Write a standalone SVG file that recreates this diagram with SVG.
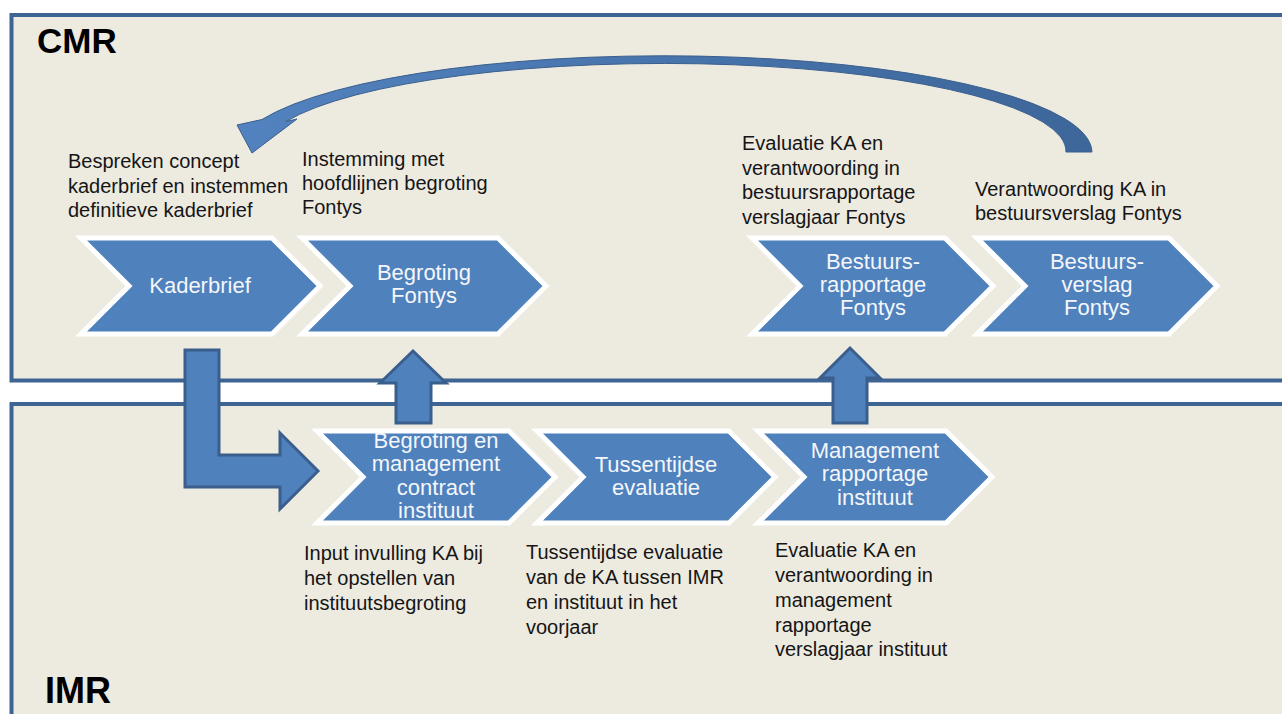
<svg xmlns="http://www.w3.org/2000/svg" width="1282" height="714" viewBox="0 0 1282 714">
<defs>
<linearGradient id="arcGrad" x1="240" y1="0" x2="1100" y2="0" gradientUnits="userSpaceOnUse">
<stop offset="0" stop-color="#5282BF"/>
<stop offset="1" stop-color="#3D6699"/>
</linearGradient>
</defs>
<style>
.frame{fill:#EDEAE0;stroke:#3E6494;stroke-width:4}
.chev{fill:#4F81BD;stroke:#FFFFFF;stroke-width:5;stroke-linejoin:miter}
.ctext{font-family:"Liberation Sans",Arial,sans-serif;font-size:22px;fill:#F4F6FA;text-anchor:middle}
.label{font-family:"Liberation Sans",Arial,sans-serif;font-size:20px;fill:#151515}
.title{font-family:"Liberation Sans",Arial,sans-serif;font-size:35px;font-weight:bold;fill:#000}
.arrow{fill:#4F81BD;stroke:#3A5F8D;stroke-width:3;stroke-linejoin:miter}
</style>
<rect width="1282" height="714" fill="#FFFFFF"/>
<g id="frames">
<rect class="frame" x="11.5" y="15" width="1290" height="365.5"/>
<rect class="frame" x="11.5" y="404" width="1290" height="330"/>
<text class="title" x="37" y="53">CMR</text>
<text class="title" x="45" y="703" style="font-size:36px">IMR</text>
</g>
<g id="kaderbrief">
<polygon class="chev" points="81,238 272,238 320,286 272,334 81,334 129,286"/>
<text class="ctext" x="200" y="293">Kaderbrief</text>
</g>
<g id="begroting-fontys">
<polygon class="chev" points="302,238 498,238 546,286 498,334 302,334 350,286"/>
<text class="ctext" x="424" y="280">Begroting</text>
<text class="ctext" x="424" y="303">Fontys</text>
</g>
<g id="bestuursrapportage">
<polygon class="chev" points="752,238 945,238 993,286 945,334 752,334 800,286"/>
<text class="ctext" x="873" y="269">Bestuurs-</text>
<text class="ctext" x="873" y="292">rapportage</text>
<text class="ctext" x="873" y="315">Fontys</text>
</g>
<g id="bestuursverslag">
<polygon class="chev" points="977,238 1169,238 1217,286 1169,334 977,334 1025,286"/>
<text class="ctext" x="1097" y="269">Bestuurs-</text>
<text class="ctext" x="1097" y="292">verslag</text>
<text class="ctext" x="1097" y="315">Fontys</text>
</g>
<g id="begroting-management">
<polygon class="chev" points="317,431 509,431 555,477 509,523 317,523 363,477"/>
<text class="ctext" x="436" y="448">Begroting en</text>
<text class="ctext" x="436" y="471">management</text>
<text class="ctext" x="436" y="495">contract</text>
<text class="ctext" x="436" y="518">instituut</text>
</g>
<g id="tussentijdse">
<polygon class="chev" points="537,431 729,431 775,477 729,523 537,523 583,477"/>
<text class="ctext" x="656" y="472">Tussentijdse</text>
<text class="ctext" x="656" y="495">evaluatie</text>
</g>
<g id="management-rapportage">
<polygon class="chev" points="758,431 946,431 992,477 946,523 758,523 804,477"/>
<text class="ctext" x="875" y="458">Management</text>
<text class="ctext" x="875" y="481">rapportage</text>
<text class="ctext" x="875" y="505">instituut</text>
</g>
<g id="labels">
<text class="label" x="68" y="168">Bespreken concept</text>
<text class="label" x="68" y="193">kaderbrief en instemmen</text>
<text class="label" x="68" y="217">definitieve kaderbrief</text>
<text class="label" x="302" y="166">Instemming met</text>
<text class="label" x="302" y="190">hoofdlijnen begroting</text>
<text class="label" x="302" y="214">Fontys</text>
<text class="label" x="742" y="150">Evaluatie KA en</text>
<text class="label" x="742" y="175">verantwoording in</text>
<text class="label" x="742" y="199">bestuursrapportage</text>
<text class="label" x="742" y="224">verslagjaar Fontys</text>
<text class="label" x="975" y="196">Verantwoording KA in</text>
<text class="label" x="975" y="220">bestuursverslag Fontys</text>
<text class="label" x="304" y="560">Input invulling KA bij</text>
<text class="label" x="304" y="585">het opstellen van</text>
<text class="label" x="304" y="610">instituutsbegroting</text>
<text class="label" x="526" y="559">Tussentijdse evaluatie</text>
<text class="label" x="526" y="584">van de KA tussen IMR</text>
<text class="label" x="526" y="609">en instituut in het</text>
<text class="label" x="526" y="634">voorjaar</text>
<text class="label" x="775" y="557">Evaluatie KA en</text>
<text class="label" x="775" y="582">verantwoording in</text>
<text class="label" x="775" y="607">management</text>
<text class="label" x="775" y="632">rapportage</text>
<text class="label" x="775" y="656">verslagjaar instituut</text>
</g>
<g id="connectors">
<polygon class="arrow" points="185,350 219,350 219,455 280,455 280,433 318,471 280,509 280,487 185,487"/>
<polygon class="arrow" points="396,423 396,383 380,383 413,351 446,383 431,383 431,423"/>
<polygon class="arrow" points="833,423 833,378 820,378 850,348 880,378 867,378 867,423"/>
<path d="M1092,152 A428,97 0 0 0 262,119.5 L237,125 L252,153 L297,119 L286,121.5 A402,88 0 0 1 1066,152 Z" fill="url(#arcGrad)" stroke="#3A5F8D" stroke-width="1"/>
</g>
</svg>
